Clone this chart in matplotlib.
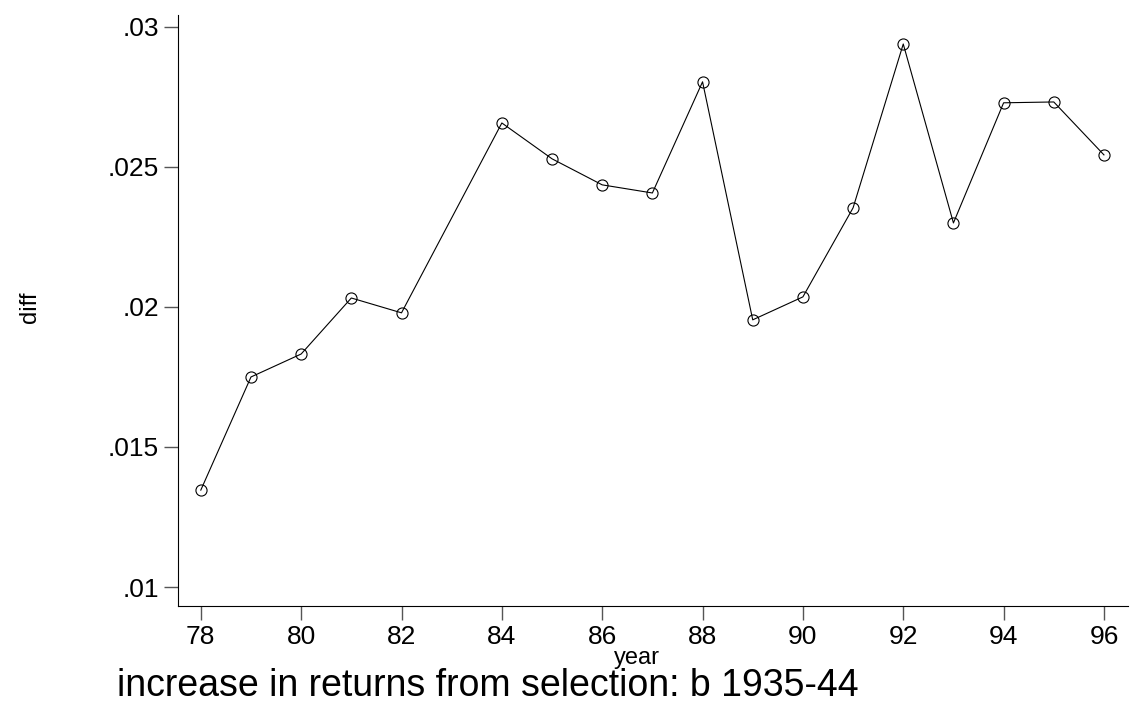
import matplotlib
matplotlib.use('Agg')
import matplotlib.pyplot as plt

years = [78, 79, 80, 81, 82, 84, 85, 86, 87, 88, 89, 90, 91, 92, 93, 94, 95, 96]
diff = [.01346, .0175, .01832, .02032, .01979, .02657, .02529, .02436, .02407,
        .02804, .01954, .02036, .02354, .02939, .0230, .02729, .02732, .02543]
xticks = [78, 80, 82, 84, 86, 88, 90, 92, 94, 96]
yticks = [.01, .015, .02, .025, .03]
ylabels = ['.01', '.015', '.02', '.025', '.03']

plt.rcParams['font.family'] = ['Liberation Sans', 'DejaVu Sans']
fig = plt.figure(figsize=(11.32, 7.08), dpi=100)
ax = fig.add_axes([0.157, 0.144, 0.8395, 0.835])
ax.plot(years, diff, color='black', linewidth=0.8, marker='o', markersize=8,
        markerfacecolor='none', markeredgecolor='black', markeredgewidth=0.8)
ax.set_xlim(77.54, 96.48)
ax.set_ylim(.00932, .03043)
ax.set_xticks(xticks)
ax.set_xticklabels([str(t) for t in xticks])
ax.set_yticks(yticks)
ax.set_yticklabels(ylabels)
ax.tick_params(labelsize=19, length=10, width=1, color='#555555', direction='out')
for s in ['top', 'right']:
    ax.spines[s].set_visible(False)
fig.text(637 / 1132, 1 - 658 / 708, 'year', fontsize=17, ha='center', va='center')
fig.text(30 / 1132, 1 - 307 / 708, 'diff', fontsize=17, ha='center', va='center',
         rotation=90)
fig.text(488 / 1132, 1 - 686 / 708, 'increase in returns from selection: b 1935-44',
         fontsize=27, ha='center', va='center')
fig.savefig('out.png', dpi=100)
